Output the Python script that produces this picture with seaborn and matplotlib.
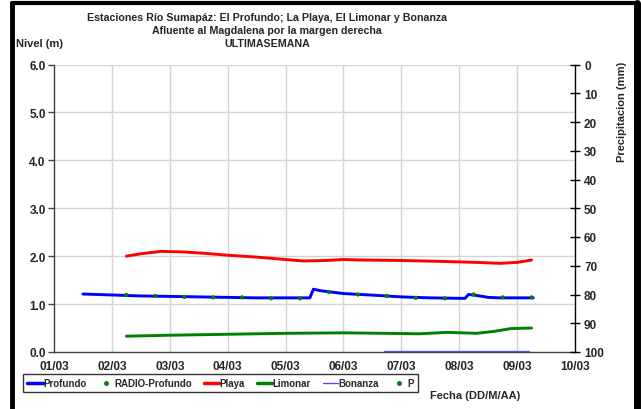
import numpy as np
import matplotlib
matplotlib.use("Agg")
import matplotlib.pyplot as plt
import seaborn as sns
import pandas as pd
from matplotlib.lines import Line2D

# days counted from 01/03
tick_labels = ['01/03', '02/03', '03/03', '04/03', '05/03', '06/03', '07/03', '08/03', '09/03', '10/03']

profundo_d = [0.5, 1.0, 1.5, 2.0, 2.5, 3.0, 3.5, 4.0, 4.42, 4.48, 4.6, 4.8, 5.0, 5.3, 5.6, 6.0,
              6.5, 7.0, 7.1, 7.16, 7.3, 7.5, 7.7, 8.0, 8.28]
profundo_v = [1.21, 1.19, 1.17, 1.16, 1.15, 1.14, 1.13, 1.13, 1.13, 1.31, 1.28, 1.25, 1.22, 1.20,
              1.18, 1.15, 1.13, 1.12, 1.12, 1.20, 1.18, 1.14, 1.13, 1.13, 1.13]

radio_d = [1.25, 1.75, 2.25, 2.75, 3.25, 3.75, 4.25, 4.75, 5.25, 5.75, 6.25, 6.75, 7.25, 7.75, 8.25]
radio_v = [1.19, 1.17, 1.15, 1.14, 1.14, 1.12, 1.12, 1.25, 1.20, 1.17, 1.13, 1.12, 1.20, 1.14, 1.14]

playa_d = [1.25, 1.5, 1.85, 2.2, 2.6, 3.0, 3.5, 4.0, 4.3, 4.7, 5.0, 5.3, 6.0, 6.7, 7.3, 7.7, 8.0, 8.25]
playa_v = [2.00, 2.05, 2.10, 2.09, 2.06, 2.02, 1.98, 1.93, 1.90, 1.91, 1.93, 1.92, 1.91, 1.89,
           1.87, 1.85, 1.87, 1.92]

limonar_d = [1.25, 2.0, 3.0, 4.0, 5.0, 5.7, 6.3, 6.8, 7.3, 7.6, 7.9, 8.25]
limonar_v = [0.33, 0.35, 0.37, 0.39, 0.40, 0.39, 0.38, 0.41, 0.39, 0.43, 0.49, 0.50]

bonanza_d = [5.7, 8.2]
bonanza_v = [0.02, 0.02]

sns.set_style("white")
plt.rcParams['font.family'] = ['Liberation Sans', 'DejaVu Sans']
plt.rcParams['font.weight'] = 'bold'

fig = plt.figure(figsize=(6.41, 4.10), dpi=100)
ax = fig.add_axes([54 / 641, 1 - 353 / 410, (575 - 54) / 641, (353 - 65.5) / 410])

grid_c = '#d4d4d4'
for i in range(1, 9):
    ax.axvline(i, color=grid_c, lw=1, zorder=0)
for v in range(1, 7):
    ax.axhline(v, color=grid_c, lw=1, zorder=0)

lw = 2.1
sns.lineplot(x=profundo_d, y=profundo_v, ax=ax, color='#0000ff', lw=lw, zorder=3)
sns.scatterplot(x=radio_d, y=radio_v, ax=ax, color='#008000', s=9, edgecolor='none', zorder=4)
sns.lineplot(x=playa_d, y=playa_v, ax=ax, color='#ff0000', lw=lw, zorder=3)
sns.lineplot(x=limonar_d, y=limonar_v, ax=ax, color='#008000', lw=lw, zorder=3)
sns.lineplot(x=bonanza_d, y=bonanza_v, ax=ax, color='#5050ff', lw=1, zorder=3)

ax.set_xlim(0, 9)
ax.set_ylim(0, 6)
ax.set_xticks(range(10))
ax.set_xticklabels(tick_labels)
ax.set_yticks(np.arange(0, 6.1, 1.0))
ax.set_yticklabels([f'{v:.1f}' for v in np.arange(0, 6.1, 1.0)])
ax.tick_params(axis='both', labelsize=8.5, direction='out', length=4, width=1, color='#404040', pad=2)
for s in ['top', 'right']:
    ax.spines[s].set_visible(False)
for s in ['left', 'bottom']:
    ax.spines[s].set_color('#404040')
    ax.spines[s].set_linewidth(1)

ax2 = ax.twinx()
ax2.set_ylim(100, 0)
ax2.set_yticks(range(0, 101, 10))
ax2.tick_params(axis='y', labelsize=8.5, direction='inout', length=7, width=1, color='black', pad=3)
for s in ['top', 'left', 'bottom']:
    ax2.spines[s].set_visible(False)
ax2.spines['right'].set_color('black')
ax2.spines['right'].set_linewidth(1)

fig.text(267 / 641, 1 - 18 / 410, 'Estaciones Río Sumapáz: El Profundo; La Playa, El Limonar y Bonanza',
         ha='center', va='center', fontsize=7.7, fontweight='bold')
fig.text(267 / 641, 1 - 31 / 410, 'Afluente al Magdalena por la margen derecha',
         ha='center', va='center', fontsize=7.7, fontweight='bold')
fig.text(267 / 641, 1 - 44 / 410, 'ULTIMASEMANA',
         ha='center', va='center', fontsize=7.7, fontweight='bold')
fig.text(16 / 641, 1 - 44 / 410, 'Nivel (m)', ha='left', va='center', fontsize=8, fontweight='bold')
fig.text(622 / 641, 1 - 112 / 410, 'Precipitacion (mm)', ha='center', va='center',
         rotation=90, fontsize=8, fontweight='bold')
fig.text(430 / 641, 1 - 396 / 410, 'Fecha (DD/M/AA)', ha='left', va='center',
         fontsize=8, fontweight='bold')

handles = [
    Line2D([], [], color='#0000ff', lw=2.5),
    Line2D([], [], color='#008000', lw=0, marker='o', markersize=2.5),
    Line2D([], [], color='#ff0000', lw=2.5),
    Line2D([], [], color='#008000', lw=2.5),
    Line2D([], [], color='#5050ff', lw=1),
    Line2D([], [], color='#008000', lw=0, marker='o', markersize=2.5),
]
names = ['Profundo', 'RADIO-Profundo', 'Playa', 'Limonar', 'Bonanza', 'P']
leg = fig.legend(handles, names, loc='center left', bbox_to_anchor=(23 / 641, 1 - 384 / 410),
                 ncol=6, frameon=True, fancybox=False, fontsize=7, handlelength=1.6,
                 handletextpad=0.05, columnspacing=1.2, borderpad=0.45, borderaxespad=0)
leg.get_frame().set_edgecolor('black')
leg.get_frame().set_linewidth(1)

# outer frame of the chart
fig.add_artist(Line2D([12 / 641, 12 / 641], [0, 1 - 4 / 410], color='black', lw=3.5,
                      transform=fig.transFigure))
fig.add_artist(Line2D([12 / 641, 637 / 641], [1 - 4 / 410, 1 - 4 / 410], color='black', lw=3,
                      transform=fig.transFigure))
fig.add_artist(Line2D([637 / 641, 637 / 641], [0, 1 - 4 / 410], color='black', lw=5,
                      transform=fig.transFigure))

fig.savefig('out.png', dpi=100)
